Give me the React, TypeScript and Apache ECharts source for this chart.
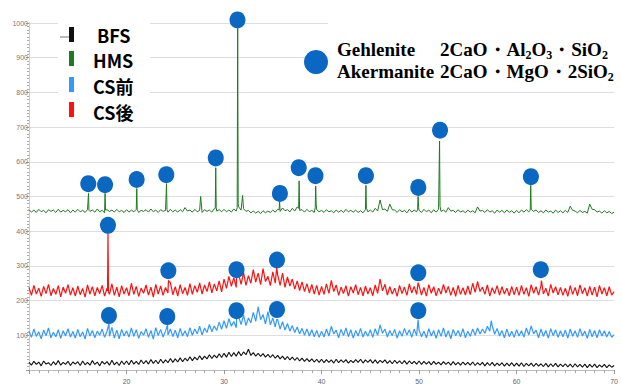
import React, { useEffect, useRef } from 'react';
import * as echarts from 'echarts';

// 2θ grid for the sampled traces: 10°, 10.25°, ... 70°
const X_START = 10;
const X_STEP = 0.25;

// BFS (black) – one row = 5°
const bfsValues = [
  22, 14, 25, 16, 23, 12, 26, 17, 21, 13, 24, 15, 27, 14, 22, 16, 25, 13, 23, 17,
  24, 13, 26, 15, 22, 14, 27, 16, 23, 12, 25, 17, 24, 14, 28, 15, 23, 13, 26, 16,
  26, 15, 28, 17, 25, 16, 29, 18, 27, 17, 30, 19, 28, 18, 31, 20, 29, 21, 33, 22,
  32, 23, 35, 24, 34, 26, 38, 27, 37, 29, 41, 30, 40, 32, 44, 33, 43, 35, 47, 36,
  48, 37, 51, 39, 50, 40, 53, 41, 52, 44, 60, 42, 50, 40, 48, 39, 47, 37, 45, 36,
  44, 34, 42, 32, 40, 30, 39, 29, 37, 28, 36, 26, 34, 25, 33, 24, 32, 23, 31, 22,
  31, 21, 30, 22, 29, 20, 31, 21, 29, 22, 30, 20, 28, 21, 30, 22, 31, 20, 29, 22,
  30, 20, 29, 19, 28, 21, 29, 19, 27, 18, 28, 19, 26, 18, 27, 17, 26, 18, 25, 17,
  26, 16, 25, 17, 24, 15, 25, 16, 23, 15, 24, 16, 23, 14, 24, 15, 22, 14, 23, 15,
  22, 14, 23, 13, 21, 14, 22, 12, 21, 13, 22, 12, 20, 13, 21, 11, 20, 12, 21, 11,
  20, 11, 21, 10, 19, 12, 20, 10, 19, 11, 18, 10, 19, 9, 18, 10, 19, 9, 17, 10,
  18, 9, 17, 8, 18, 9, 16, 8, 17, 7, 16, 8, 17, 7, 15, 8, 16, 7, 15, 8,
  13,
];
const bfsPeaks: [number, number][] = [];

// CS前 (blue)
const csBeforeValues = [
  112, 94, 118, 97, 110, 90, 115, 99, 121, 93, 109, 96, 116, 91, 113, 98, 119, 95, 111, 92,
  117, 96, 110, 89, 120, 98, 114, 93, 112, 100, 118, 94, 111, 97, 123, 92, 115, 90, 117, 98,
  113, 95, 121, 97, 116, 91, 111, 100, 119, 94, 114, 89, 122, 99, 117, 95, 112, 101, 118, 96,
  115, 93, 120, 98, 113, 96, 122, 100, 118, 104, 126, 101, 121, 108, 131, 110, 127, 114, 138, 117,
  142, 120, 148, 126, 140, 122, 153, 131, 158, 128, 150, 136, 166, 140, 182, 145, 160, 132, 168, 130,
  150, 124, 146, 118, 139, 115, 134, 112, 128, 108, 124, 104, 120, 100, 118, 98, 116, 96, 114, 94,
  112, 95, 118, 98, 126, 104, 115, 93, 117, 99, 121, 96, 116, 92, 114, 98, 120, 95, 112, 97,
  116, 94, 119, 100, 130, 106, 118, 95, 114, 99, 117, 92, 113, 97, 120, 101, 116, 94, 118, 99,
  115, 96, 112, 93, 119, 98, 114, 91, 116, 97, 121, 95, 113, 90, 117, 99, 114, 96, 119, 93,
  112, 97, 118, 100, 121, 104, 118, 106, 126, 112, 128, 103, 120, 98, 114, 93, 118, 96, 112, 94,
  116, 98, 113, 95, 121, 101, 127, 104, 115, 93, 118, 97, 114, 92, 119, 99, 116, 94, 113, 96,
  115, 92, 118, 97, 113, 94, 119, 98, 112, 91, 117, 96, 114, 93, 116, 98, 113, 95, 111, 94,
  102,
];
const csBeforePeaks: [number, number][] = [
  [18.2, 135], [24.2, 130], [31.3, 152], [35.4, 145], [49.9, 145], [57.4, 142],
];

// CS後 (red)
const csAfterValues = [
  238, 215, 244, 219, 236, 212, 241, 220, 247, 214, 235, 218, 243, 211, 239, 221, 246, 216, 237, 213,
  242, 217, 235, 210, 245, 219, 240, 214, 238, 220, 244, 213, 236, 218, 248, 215, 239, 211, 243, 219,
  237, 214, 250, 218, 241, 212, 236, 221, 245, 216, 239, 210, 247, 219, 242, 215, 238, 222, 252, 217,
  240, 213, 246, 220, 238, 215, 249, 218, 243, 224, 251, 219, 245, 226, 254, 222, 248, 228, 257, 225,
  262, 235, 270, 241, 266, 238, 276, 247, 281, 244, 272, 250, 289, 253, 279, 246, 292, 255, 270, 243,
  283, 250, 274, 244, 279, 238, 268, 242, 262, 233, 257, 229, 254, 226, 249, 222, 247, 219, 244, 216,
  241, 218, 248, 221, 258, 226, 245, 215, 239, 220, 243, 213, 240, 222, 246, 217, 238, 214, 242, 219,
  237, 214, 245, 221, 262, 228, 247, 216, 240, 219, 236, 212, 244, 220, 239, 215, 248, 222, 241, 218,
  243, 216, 238, 213, 246, 221, 240, 214, 236, 219, 247, 222, 241, 215, 238, 212, 244, 218, 237, 216,
  242, 217, 250, 224, 255, 226, 239, 218, 245, 213, 237, 220, 243, 216, 240, 219, 236, 214, 241, 217,
  239, 215, 244, 218, 237, 212, 246, 221, 240, 216, 243, 219, 236, 213, 247, 222, 240, 217, 238, 215,
  236, 212, 243, 218, 238, 214, 245, 220, 237, 213, 241, 216, 239, 211, 244, 219, 237, 214, 240, 216,
  226,
];
const csAfterPeaks: [number, number][] = [
  [18.05, 228], [18.1, 395], [18.15, 225],
  [24.3, 258], [31.3, 278], [35.4, 295], [49.9, 252], [62.55, 258],
];

// HMS (green)
const hmsValues = [
  462, 455, 461, 454, 463, 456, 460, 453, 462, 457, 461, 454, 463, 455, 460, 456, 462, 453, 461, 455,
  463, 456, 460, 454, 462, 457, 461, 455, 464, 456, 460, 453, 462, 457, 461, 455, 463, 456, 460, 454,
  462, 455, 461, 456, 463, 454, 460, 457, 462, 455, 464, 456, 461, 454, 462, 457, 460, 455, 463, 456,
  461, 455, 462, 456, 468, 458, 461, 455, 463, 456, 460, 454, 462, 457, 461, 455, 465, 458, 462, 456,
  463, 456, 461, 455, 464, 458, 470, 461, 465, 457, 460, 453, 458, 452, 457, 451, 459, 453, 458, 454,
  461, 455, 463, 457, 467, 459, 462, 456, 466, 458, 470, 460, 462, 455, 463, 456, 460, 454, 462, 456,
  460, 454, 462, 456, 459, 453, 461, 455, 460, 454, 463, 456, 460, 455, 461, 454, 459, 453, 462, 456,
  461, 455, 466, 458, 490, 462, 464, 457, 478, 462, 461, 454, 462, 456, 460, 453, 463, 455, 461, 456,
  460, 454, 463, 456, 461, 453, 462, 455, 463, 457, 461, 455, 468, 458, 460, 454, 462, 455, 459, 453,
  461, 455, 459, 453, 470, 458, 460, 454, 462, 455, 459, 452, 461, 455, 460, 453, 461, 454, 459, 452,
  460, 453, 461, 455, 462, 456, 463, 457, 461, 454, 459, 453, 461, 455, 458, 452, 461, 454, 459, 453,
  460, 454, 472, 460, 458, 453, 460, 454, 457, 452, 478, 463, 462, 455, 458, 452, 459, 453, 457, 451,
  455,
];
const hmsPeaks: [number, number][] = [
  [16.05, 461], [16.1, 509], [16.15, 460],
  [17.8, 509], [17.85, 461],
  [21.05, 523], [21.1, 462],
  [24.05, 461], [24.1, 537], [24.15, 462],
  [27.6, 500],
  [29.1, 466], [29.15, 583], [29.2, 468],
  [31.35, 468], [31.4, 985], [31.45, 480],
  [31.9, 503],
  [35.65, 462], [35.7, 485],
  [37.65, 466], [37.7, 545],
  [39.35, 468], [39.4, 530], [39.45, 478],
  [44.55, 532], [44.6, 466],
  [49.85, 462], [49.9, 500], [49.95, 468],
  [52.05, 462], [52.1, 660], [52.15, 472],
  [61.4, 460], [61.45, 532],
];

// Gehlenite / Akermanite markers (circle centres)
const markersHms: [number, number][] = [
  [16.08, 537], [17.8, 534], [21.04, 549], [24.08, 563], [29.15, 611], [31.38, 1009],
  [35.73, 509], [37.66, 583], [39.38, 560], [44.55, 560], [49.92, 526], [52.15, 691], [61.47, 557],
];
const markersCsAfter: [number, number][] = [
  [18.1, 417], [24.29, 286], [31.28, 289], [35.43, 317], [49.92, 280], [62.48, 289],
];
const markersCsBefore: [number, number][] = [
  [18.2, 157], [24.18, 154], [31.28, 171], [35.43, 174], [49.92, 171],
];

const legendNames = ['BFS', 'HMS', 'CS前', 'CS後'];
const seriesColors = ['#111111', '#1e7b1e', '#3399ff', '#ff1010'];
const markerColor = '#0a67c2';

function buildSeries(values: number[], peaks: [number, number][]) {
  const pts: [number, number][] = values.map((v, i) => [X_START + i * X_STEP, v]);
  peaks.forEach((p) => pts.push(p));
  pts.sort((a, b) => a[0] - b[0]);
  return pts;
}

const sans = "'Noto Sans CJK JP', 'Noto Sans', sans-serif";
const serif = "'Liberation Serif', 'DejaVu Serif', serif";

export default function App() {
  const ref = useRef<HTMLDivElement>(null);
  useEffect(() => {
    document.body.style.margin = '0';
    const chart = echarts.init(ref.current!, null, { renderer: 'svg' });
    const lineSeries = (name: string, data: [number, number][], color: string, width: number) => ({
      name,
      type: 'line',
      data,
      showSymbol: false,
      clip: false,
      lineStyle: { color, width },
      itemStyle: { color },
      z: 3,
    });
    const richMain = { fontFamily: serif, fontWeight: 'bold', fontSize: 19, lineHeight: 24, fill: '#000' };
    const richSub = { fontFamily: serif, fontWeight: 'bold', fontSize: 12, lineHeight: 11, verticalAlign: 'bottom', fill: '#000' };
    const legendRows = [
      { y: 27, ty: 35, tx: 97 },
      { y: 51, ty: 60, tx: 93 },
      { y: 77, ty: 86, tx: 93 },
      { y: 102, ty: 112, tx: 93 },
    ];
    const legendOrder = [0, 1, 2, 3];
    const option: any = {
      animation: false,
      grid: { left: 29, right: 0, top: 23, bottom: 12, containLabel: false },
      xAxis: {
        type: 'value',
        min: 10,
        max: 70,
        interval: 10,
        offset: 4,
        axisLine: { show: true, lineStyle: { color: '#bbbbbb' } },
        axisTick: { show: true, length: 4, lineStyle: { color: '#999999' } },
        minorTick: { show: true, splitNumber: 10, length: 3, lineStyle: { color: '#aaaaaa' } },
        axisLabel: { fontSize: 7, color: '#666666', margin: 4, showMinLabel: false },
        splitLine: { show: false },
      },
      yAxis: {
        type: 'value',
        min: 0,
        max: 1000,
        interval: 100,
        axisLine: { show: true, lineStyle: { color: '#cccccc' } },
        axisTick: { show: true, length: 3, lineStyle: { color: '#999999' } },
        minorTick: { show: true, splitNumber: 10, length: 2, lineStyle: { color: '#aaaaaa' } },
        axisLabel: {
          fontSize: 7,
          color: '#777777',
          margin: 1,
          formatter: (v: number) => (v === 0 ? '' : String(v)),
        },
        splitLine: { show: true, lineStyle: { color: '#dedede', width: 1 } },
      },
      series: [
        lineSeries(legendNames[0], buildSeries(bfsValues, bfsPeaks), seriesColors[0], 1.1),
        lineSeries(legendNames[2], buildSeries(csBeforeValues, csBeforePeaks), seriesColors[2], 1.2),
        lineSeries(legendNames[3], buildSeries(csAfterValues, csAfterPeaks), seriesColors[3], 1.2),
        lineSeries(legendNames[1], buildSeries(hmsValues, hmsPeaks), seriesColors[1], 1),
        {
          name: 'Gehlenite / Akermanite',
          type: 'scatter',
          data: [...markersHms, ...markersCsAfter, ...markersCsBefore],
          symbol: 'circle',
          symbolSize: [16, 17],
          clip: false,
          itemStyle: { color: markerColor, opacity: 1 },
          z: 5,
        },
      ],
      graphic: [
        { type: 'rect', z: 1, shape: { x: 58, y: 16, width: 92, height: 106 }, style: { fill: '#ffffff' } },
        { type: 'rect', z: 1, shape: { x: 328, y: 14, width: 293, height: 72 }, style: { fill: '#ffffff' } },
        { type: 'line', z: 10, shape: { x1: 60, y1: 37, x2: 69, y2: 37 }, style: { stroke: '#777777', lineWidth: 1 } },
        ...legendOrder.map((k) => ({
          type: 'rect',
          z: 10,
          shape: { x: 69, y: legendRows[k].y, width: 5, height: 15 },
          style: { fill: seriesColors[k] },
        })),
        ...legendOrder.map((k) => ({
          type: 'text',
          z: 10,
          x: legendRows[k].tx,
          y: legendRows[k].ty,
          style: {
            text: legendNames[k],
            fontFamily: sans,
            fontWeight: 'bold',
            fontSize: 18,
            fill: '#000000',
            verticalAlign: 'middle',
            align: 'left',
          },
        })),
        { type: 'circle', z: 10, shape: { cx: 316, cy: 62, r: 12 }, style: { fill: markerColor } },
        {
          type: 'text', z: 10, x: 337, y: 49,
          style: { text: 'Gehlenite', fontFamily: serif, fontWeight: 'bold', fontSize: 19, fill: '#000', verticalAlign: 'middle' },
        },
        {
          type: 'text', z: 10, x: 337, y: 71,
          style: { text: 'Akermanite', fontFamily: serif, fontWeight: 'bold', fontSize: 19, fill: '#000', verticalAlign: 'middle' },
        },
        {
          type: 'text', z: 10, x: 440, y: 49,
          style: {
            text: '{m|2CaO・Al}{s|2}{m|O}{s|3}{m|・SiO}{s|2}',
            verticalAlign: 'middle',
            rich: { m: richMain, s: richSub },
          },
        },
        {
          type: 'text', z: 10, x: 440, y: 71,
          style: {
            text: '{m|2CaO・MgO・2SiO}{s|2}',
            verticalAlign: 'middle',
            rich: { m: richMain, s: richSub },
          },
        },
      ],
    };
    chart.setOption(option);
    return () => chart.dispose();
  }, []);
  return <div ref={ref} style={{ width: 621, height: 385 }} />;
}
